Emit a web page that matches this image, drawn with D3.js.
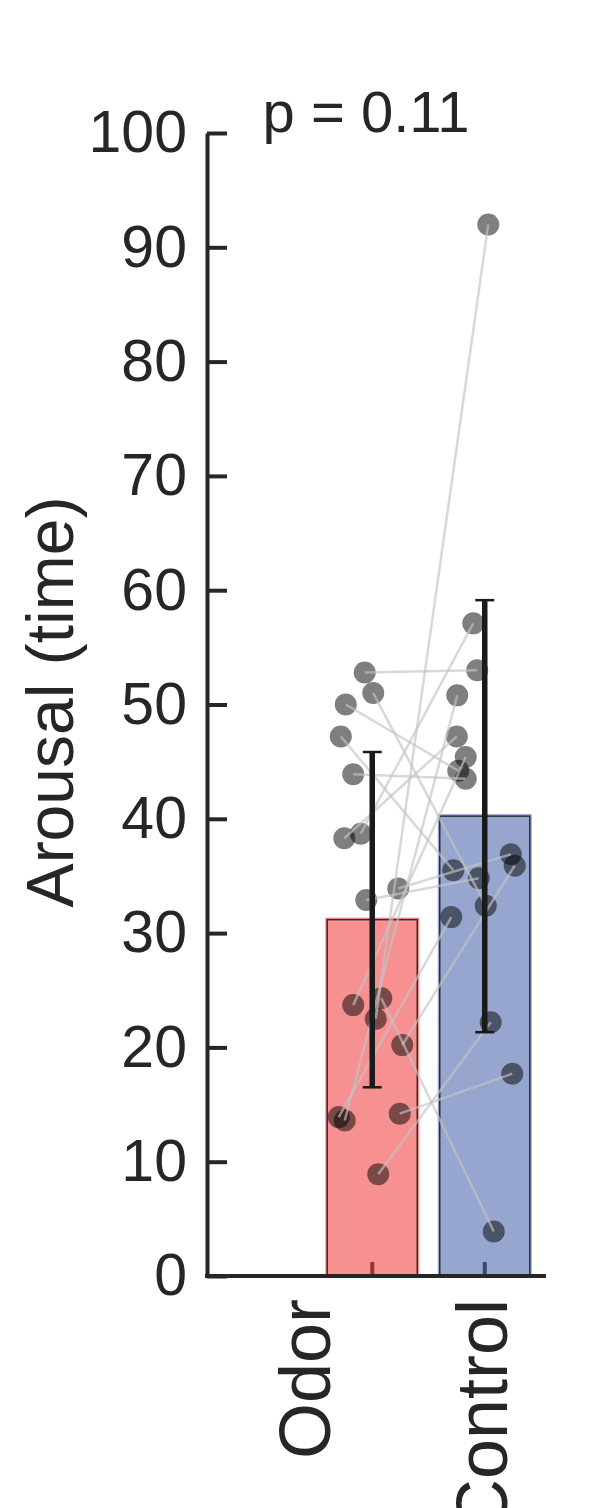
<!DOCTYPE html>
<html>
<head>
<meta charset="utf-8">
<script src="https://cdn.jsdelivr.net/npm/d3@7"></script>
<style>
  body { margin: 0; background: #fff; }
  text { font-family: "Liberation Sans", Arial, sans-serif; fill: #262626; }
</style>
</head>
<body>
<div id="chart"></div>
<script>
// Categories and paired values per subject
const categories = ["Odor", "Control"];
const odorValues = [52.8, 51.0, 50.0, 47.2, 43.9, 38.3, 38.7, 33.9, 32.9, 23.7, 24.3, 22.5, 20.2, 13.9, 13.6, 14.2, 8.9];
const controlValues = [53.0, 32.4, 44.2, 35.5, 43.5, 47.2, 57.1, 36.9, 34.8, 45.4, 3.9, 92.0, 35.9, 31.4, 50.8, 17.7, 22.2];
// horizontal jitter per subject, as a fraction of the bar width
const jitter = [-0.082, 0.011, -0.288, -0.342, -0.207, -0.304, -0.125, 0.283, -0.065, -0.207, 0.098, 0.038, 0.326, -0.364, -0.299, 0.299, 0.065];
const yTicks = [0, 10, 20, 30, 40, 50, 60, 70, 80, 90, 100];
const pText = "p = 0.11";
const yTitle = "Arousal (time)";

const width = 604, height = 1508;
const ink = "#262626";
const fills = { Odor: "rgb(239,59,62)", Control: "rgb(70,99,171)" };
const labelShift = { Odor: -42, Control: 22 };

const svg = d3.select("#chart").append("svg")
    .attr("width", width)
    .attr("height", height);

// Scales
const y = d3.scaleLinear().domain([0, 100]).range([1276, 133]);
const x = d3.scaleBand().domain(categories).range([316, 541]);
const cx = c => x(c) + x.bandwidth() / 2;
const barW = 92;

const series = { Odor: odorValues, Control: controlValues };
const stats = categories.map(c => ({
    cat: c,
    mean: d3.mean(series[c]),
    sd: d3.deviation(series[c])
}));

// x ticks (inside, under the translucent bars)
svg.append("g")
    .attr("transform", `translate(0,${y(0)})`)
    .call(d3.axisBottom(x).tickSize(-14).tickFormat(""))
    .call(g => g.select(".domain").remove())
    .call(g => g.selectAll(".tick line").attr("stroke", ink).attr("stroke-width", 4));

// bars: translucent fill plus thin outline
svg.selectAll(".barfill")
    .data(stats)
    .join("rect")
    .attr("class", "barfill")
    .attr("x", d => cx(d.cat) - barW / 2 - 1)
    .attr("width", barW + 2)
    .attr("y", d => y(d.mean) - 2)
    .attr("height", d => y(0) - y(d.mean) + 2)
    .attr("fill", d => fills[d.cat])
    .attr("fill-opacity", 0.57);

svg.selectAll(".barline")
    .data(stats)
    .join("rect")
    .attr("class", "barline")
    .attr("x", d => cx(d.cat) - barW / 2 + 1)
    .attr("width", barW - 2)
    .attr("y", d => y(d.mean))
    .attr("height", d => y(0) - y(d.mean))
    .attr("fill", "none")
    .attr("stroke", "#111")
    .attr("stroke-opacity", 0.8)
    .attr("stroke-width", 1.5);

// subject dots
const subjects = odorValues.map((v, i) => ({ odor: v, control: controlValues[i], j: jitter[i] }));
const pts = [];
subjects.forEach(s => {
    pts.push({ cat: "Odor", v: s.odor, j: s.j });
    pts.push({ cat: "Control", v: s.control, j: s.j });
});

svg.append("g").selectAll("circle")
    .data(pts)
    .join("circle")
    .attr("cx", d => cx(d.cat) + d.j * barW)
    .attr("cy", d => y(d.v))
    .attr("r", 11)
    .attr("fill", "#000")
    .attr("fill-opacity", 0.5);

// paired lines
svg.append("g").selectAll("line")
    .data(subjects)
    .join("line")
    .attr("x1", d => cx("Odor") + d.j * barW)
    .attr("y1", d => y(d.odor))
    .attr("x2", d => cx("Control") + d.j * barW)
    .attr("y2", d => y(d.control))
    .attr("stroke", "rgb(195,195,195)")
    .attr("stroke-opacity", 0.65)
    .attr("stroke-width", 2.5);

// error bars (mean +/- SD)
const eb = svg.append("g").selectAll("g")
    .data(stats)
    .join("g");
eb.append("line")
    .attr("x1", d => cx(d.cat)).attr("x2", d => cx(d.cat))
    .attr("y1", d => y(d.mean - d.sd)).attr("y2", d => y(d.mean + d.sd))
    .attr("stroke", "#1a1a1a").attr("stroke-width", 5.5);
[-1, 1].forEach(k => {
    eb.append("line")
        .attr("x1", d => cx(d.cat) - 9.5).attr("x2", d => cx(d.cat) + 9.5)
        .attr("y1", d => y(d.mean + k * d.sd)).attr("y2", d => y(d.mean + k * d.sd))
        .attr("stroke", "#1a1a1a").attr("stroke-width", 2.5);
});

// x baseline
svg.append("line")
    .attr("x1", 205).attr("x2", 546)
    .attr("y1", y(0)).attr("y2", y(0))
    .attr("stroke", ink).attr("stroke-width", 4);

// y axis
svg.append("g")
    .attr("transform", "translate(207,0)")
    .call(d3.axisLeft(y).tickValues(yTicks).tickSize(-20).tickSizeOuter(0).tickPadding(20))
    .call(g => g.select(".domain").attr("stroke", ink).attr("stroke-width", 4))
    .call(g => g.selectAll(".tick line").attr("stroke", ink).attr("stroke-width", 4))
    .call(g => g.selectAll(".tick text")
        .attr("font-size", 59)
        .attr("font-family", "Liberation Sans, Arial, sans-serif")
        .attr("fill", ink));

// category labels
svg.selectAll(".xlab")
    .data(categories)
    .join("text")
    .attr("class", "xlab")
    .attr("transform", c => `translate(${cx(c) + labelShift[c]},1299) rotate(-90)`)
    .attr("text-anchor", "end")
    .attr("font-size", 72)
    .text(c => c);

// y title
svg.append("text")
    .attr("transform", "translate(73,702) rotate(-90)")
    .attr("text-anchor", "middle")
    .attr("font-size", 66)
    .text(yTitle);

// p value
svg.append("text")
    .attr("x", 366)
    .attr("y", 132)
    .attr("text-anchor", "middle")
    .attr("font-size", 58)
    .text(pText);
</script>
</body>
</html>
